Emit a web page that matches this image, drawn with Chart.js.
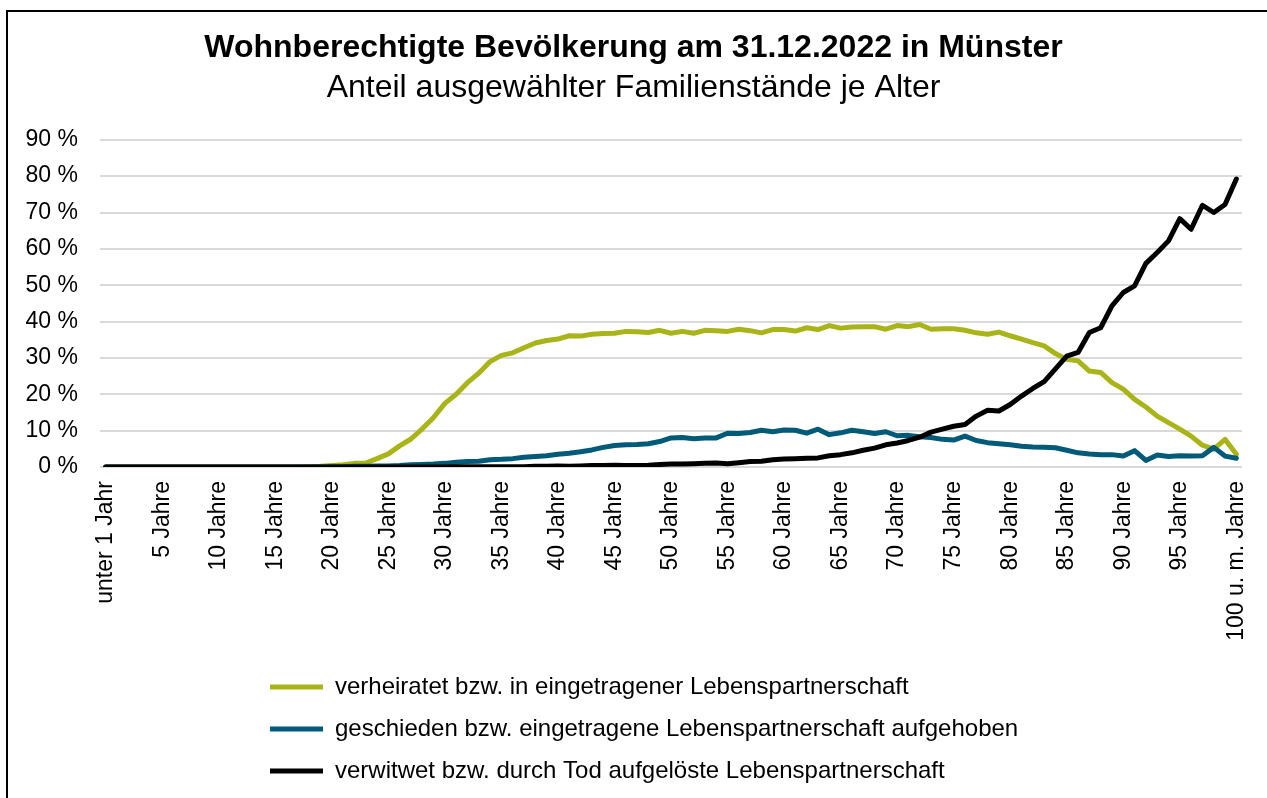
<!DOCTYPE html>
<html lang="de">
<head>
<meta charset="utf-8">
<title>Wohnberechtigte Bevölkerung Münster</title>
<script src="https://cdn.jsdelivr.net/npm/chart.js@4/dist/chart.umd.min.js"></script>
<style>
    html, body { margin: 0; padding: 0; background: #fff; }
    #wrap { position: relative; width: 1267px; height: 798px; overflow: hidden; }
    #frame { position: absolute; left: 6px; top: 10px; width: 1270px; height: 800px; border: 2px solid #000; pointer-events: none; }
    canvas { position: absolute; left: 0; top: 0; }
</style>
</head>
<body>
<div id="wrap">
    <canvas id="myChart" width="1267" height="798"></canvas>
    <div id="frame"></div>
</div>
<script>
// ages: unter 1 Jahr, 1 .. 99, 100 u. m. Jahre
const ages = [];
for (let i = 0; i <= 100; i++) {
    if (i === 0) ages.push('unter 1 Jahr');
    else if (i === 100) ages.push('100 u. m. Jahre');
    else ages.push(i + (i === 1 ? ' Jahr' : ' Jahre'));
}

const seriesNames = [
    'verheiratet bzw. in eingetragener Lebenspartnerschaft',
    'geschieden bzw. eingetragene Lebenspartnerschaft aufgehoben',
    'verwitwet bzw. durch Tod aufgelöste Lebenspartnerschaft'
];

// shares in percent, per age
const verheiratet = [
    0, 0, 0, 0, 0, 0, 0, 0, 0, 0,
    0, 0, 0, 0, 0, 0, 0, 0, 0.1, 0.2,
    0.4, 0.6, 1.0, 1.1, 2.3, 3.6, 5.8, 7.7, 10.5, 13.6,
    17.5, 20.0, 23.2, 25.8, 29.0, 30.7, 31.4, 32.8, 34.1, 34.8,
    35.2, 36.1, 36.0, 36.5, 36.7, 36.8, 37.3, 37.2, 37.0, 37.6,
    36.8, 37.3, 36.8, 37.6, 37.5, 37.3, 37.9, 37.5, 36.9, 37.8,
    37.8, 37.4, 38.3, 37.8, 38.9, 38.2, 38.5, 38.6, 38.6, 37.9,
    38.9, 38.6, 39.2, 37.9, 38.0, 38.0, 37.6, 36.9, 36.5, 37.1,
    36.1, 35.2, 34.2, 33.3, 31.2, 29.6, 29.2, 26.4, 26.0, 23.2,
    21.4, 18.6, 16.5, 14.0, 12.2, 10.4, 8.5, 6.0, 4.9, 7.6,
    3.5
];

const geschieden = [
    0, 0, 0, 0, 0, 0, 0, 0, 0, 0,
    0, 0, 0, 0, 0, 0, 0, 0, 0, 0,
    0.05, 0.1, 0.2, 0.2, 0.3, 0.3, 0.4, 0.6, 0.7, 0.8,
    1.0, 1.3, 1.5, 1.6, 2.0, 2.1, 2.3, 2.7, 2.9, 3.1,
    3.5, 3.8, 4.2, 4.7, 5.4, 5.9, 6.1, 6.2, 6.4, 7.0,
    8.0, 8.1, 7.8, 8.0, 8.0, 9.3, 9.2, 9.5, 10.1, 9.7,
    10.2, 10.1, 9.3, 10.4, 8.9, 9.4, 10.1, 9.7, 9.2, 9.7,
    8.6, 8.7, 8.3, 8.1, 7.6, 7.4, 8.5, 7.3, 6.7, 6.4,
    6.1, 5.7, 5.5, 5.4, 5.3, 4.6, 3.9, 3.6, 3.4, 3.4,
    3.0, 4.5, 1.8, 3.3, 2.9, 3.1, 3.0, 3.1, 5.4, 3.0,
    2.4
];

const verwitwet = [
    0, 0, 0, 0, 0, 0, 0, 0, 0, 0,
    0, 0, 0, 0, 0, 0, 0, 0, 0, 0,
    0, 0, 0, 0, 0, 0, 0, 0, 0, 0,
    0, 0.1, 0.1, 0.1, 0.1, 0.1, 0.1, 0.1, 0.2, 0.2,
    0.3, 0.2, 0.3, 0.4, 0.4, 0.5, 0.4, 0.4, 0.5, 0.7,
    0.8, 0.8, 0.9, 1.0, 1.1, 0.9, 1.2, 1.5, 1.6, 2.0,
    2.2, 2.3, 2.4, 2.5, 3.1, 3.4, 3.9, 4.6, 5.2, 6.1,
    6.6, 7.3, 8.2, 9.6, 10.4, 11.2, 11.7, 14.0, 15.6, 15.4,
    17.2, 19.5, 21.6, 23.5, 27.0, 30.5, 31.5, 37.0, 38.3, 44.3,
    48.0, 49.8, 56.0, 59.0, 62.2, 68.3, 65.4, 72.0, 70.0, 72.2,
    79.2
];

const colors = ['#a9b418', '#005a78', '#000000'];

Chart.defaults.font.family = '"Liberation Sans", Arial, sans-serif';
Chart.defaults.color = '#000';

function makeDataset(label, data, color, order) {
    return {
        label: label,
        data: data,
        borderColor: color,
        backgroundColor: color,
        borderWidth: 5,
        borderCapStyle: 'round',
        borderJoinStyle: 'round',
        pointRadius: 0,
        pointHoverRadius: 0,
        tension: 0,
        order: order
    };
}

// legend rows start left-aligned like in the original
const legendShift = {
    id: 'legendShift',
    beforeDraw(chart) {
        if (chart.legend) {
            chart.legend.left = 252;
        }
    }
};

const ctx = document.getElementById('myChart').getContext('2d');
const myChart = new Chart(ctx, {
    type: 'line',
    data: {
        labels: ages,
        datasets: [
            makeDataset(seriesNames[0], verheiratet, colors[0], 3),
            makeDataset(seriesNames[1], geschieden, colors[1], 2),
            makeDataset(seriesNames[2], verwitwet, colors[2], 1)
        ]
    },
    options: {
        responsive: false,
        animation: false,
        layout: {
            padding: { top: 19, left: 25, right: 25, bottom: 5 }
        },
        plugins: {
            title: {
                display: true,
                text: 'Wohnberechtigte Bevölkerung am 31.12.2022 in Münster',
                font: { size: 32, weight: 'bold' },
                color: '#000',
                padding: { top: 10, bottom: 0 }
            },
            subtitle: {
                display: true,
                text: 'Anteil ausgewählter Familienstände je Alter',
                font: { size: 32, weight: 'normal' },
                color: '#000',
                padding: { top: 2, bottom: 32 }
            },
            legend: {
                position: 'bottom',
                align: 'start',
                labels: {
                    usePointStyle: true,
                    pointStyle: 'line',
                    pointStyleWidth: 53,
                    boxHeight: 24,
                    padding: 18,
                    font: { size: 24 },
                    color: '#000',
                    sort: (a, b) => a.datasetIndex - b.datasetIndex
                }
            },
            tooltip: { enabled: false }
        },
        scales: {
            x: {
                offset: true,
                grid: { display: false, drawTicks: false },
                border: { display: false },
                ticks: {
                    autoSkip: false,
                    minRotation: 90,
                    maxRotation: 90,
                    padding: 14,
                    font: { size: 23 },
                    color: '#000',
                    callback: function (val, i) {
                        return i % 5 === 0 ? this.getLabelForValue(val) : '';
                    }
                },
                afterFit: (scale) => {
                    scale.height = 190;
                    scale.paddingLeft = 0;
                    scale.paddingRight = 0;
                }
            },
            y: {
                min: 0,
                max: 90,
                grid: { color: '#d9d9d9', lineWidth: 2, drawTicks: false },
                border: { display: false },
                ticks: {
                    stepSize: 10,
                    padding: 22,
                    font: { size: 23 },
                    color: '#000',
                    callback: (v) => v + ' %'
                },
                afterFit: (scale) => { scale.width = 75; }
            }
        }
    },
    plugins: [legendShift]
});
</script>
</body>
</html>
